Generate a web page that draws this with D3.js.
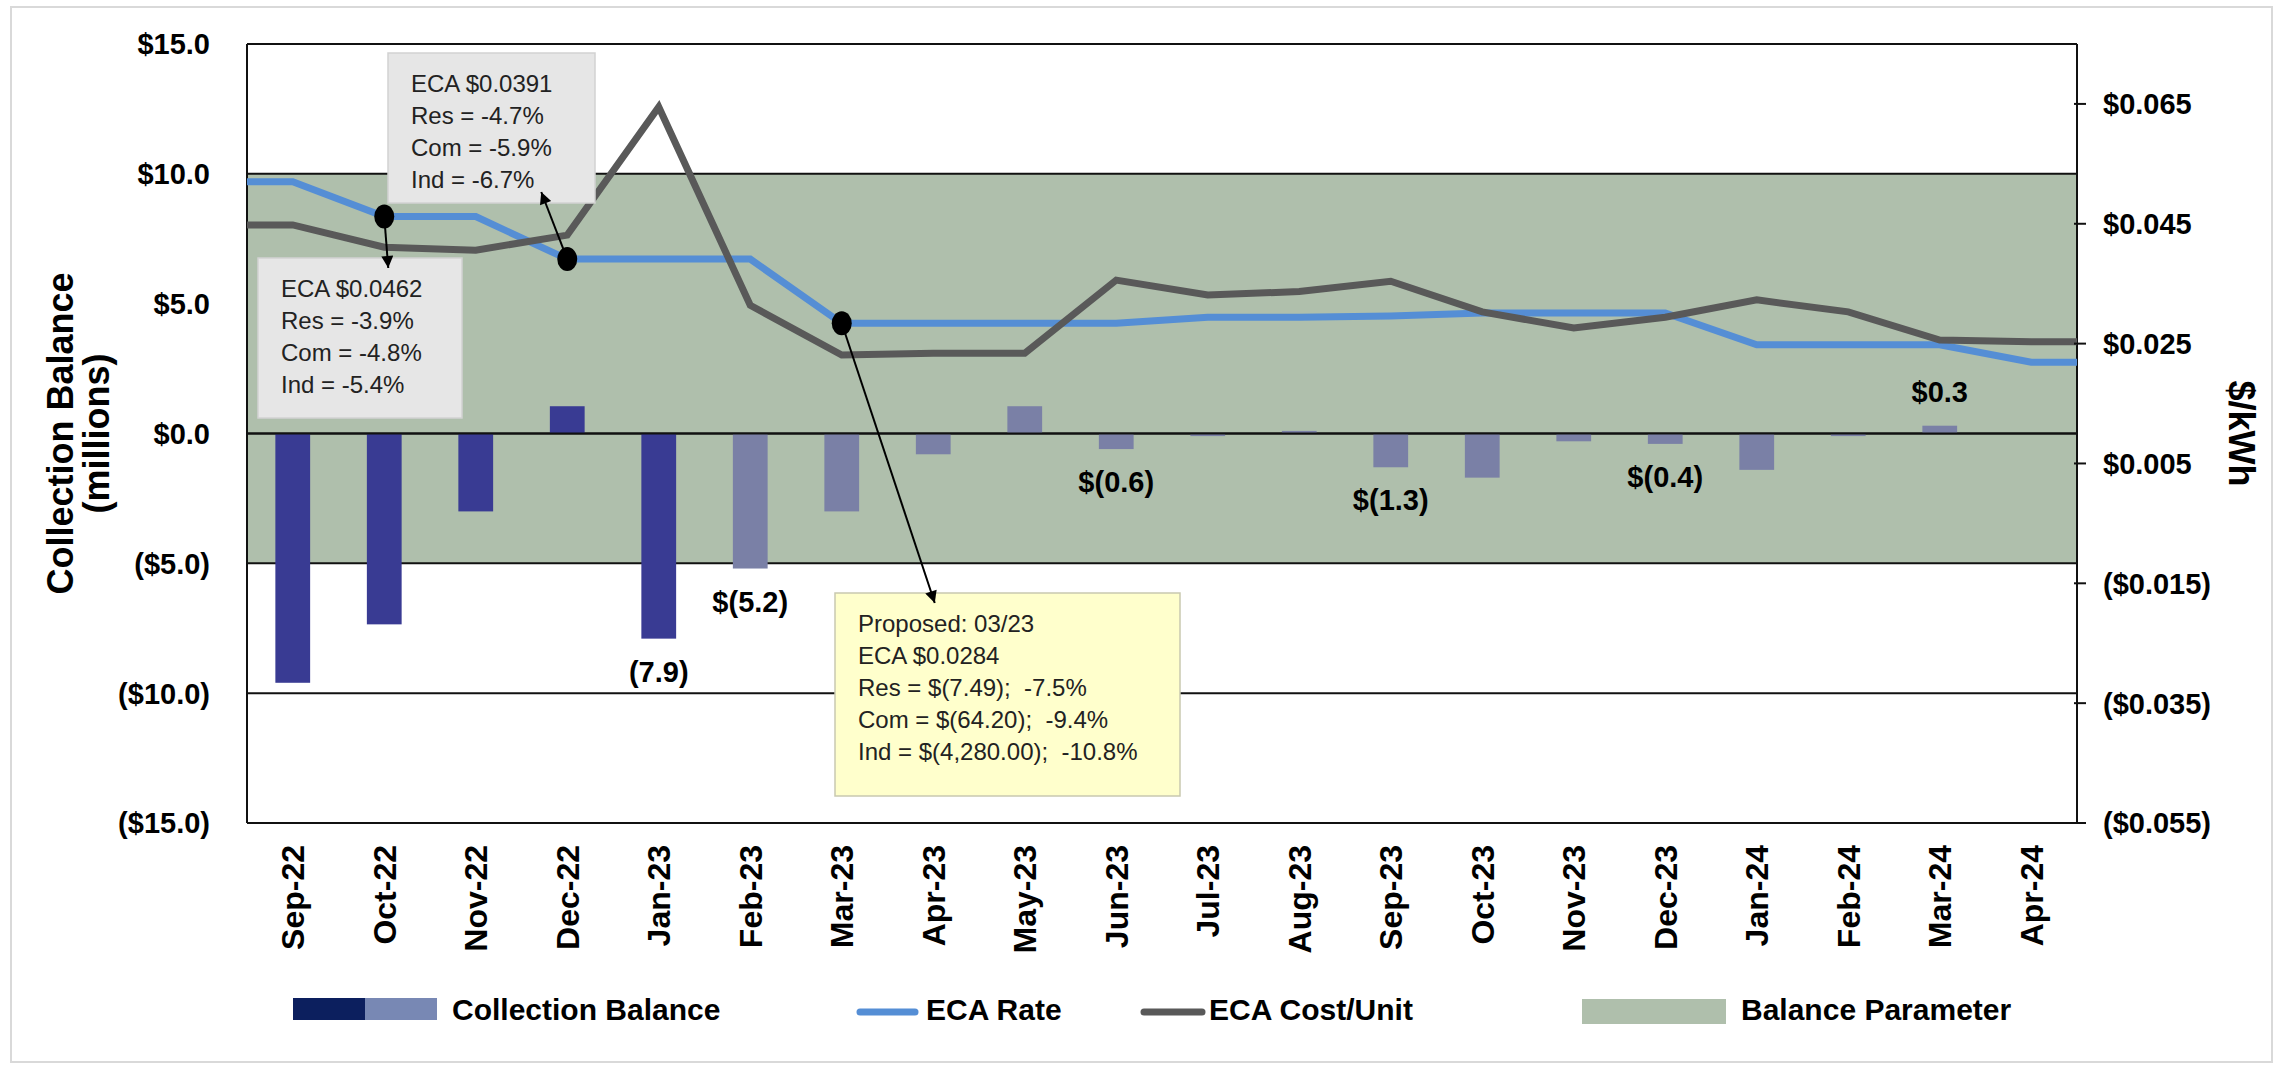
<!DOCTYPE html>
<html>
<head>
<meta charset="utf-8">
<script src="https://d3js.org/d3.v7.min.js"></script>
<style>
  body { margin: 0; background: #fff; }
  text { font-family: "Liberation Sans", Arial, sans-serif; }
</style>
</head>
<body>
<svg width="2282" height="1066"></svg>
<script>
// ---- data ----
const months = ["Sep-22", "Oct-22", "Nov-22", "Dec-22", "Jan-23", "Feb-23", "Mar-23", "Apr-23", "May-23", "Jun-23",
  "Jul-23", "Aug-23", "Sep-23", "Oct-23", "Nov-23", "Dec-23", "Jan-24", "Feb-24", "Mar-24", "Apr-24"];
const balance = [-9.6, -7.35, -3.0, 1.05, -7.9, -5.2, -3.0, -0.8, 1.05, -0.6,
  -0.1, 0.1, -1.3, -1.7, -0.3, -0.4, -1.4, -0.1, 0.3, 0];
const ecaRate = [0.0520, 0.0462, 0.0462, 0.0391, 0.0391, 0.0391, 0.0284, 0.0284, 0.0284, 0.0284,
  0.0294, 0.0294, 0.0296, 0.0301, 0.0301, 0.0301, 0.0248, 0.0248, 0.0248, 0.0219];
const ecaCost = [0.0448, 0.0411, 0.0406, 0.0431, 0.0645, 0.0314, 0.0231, 0.0234, 0.0234, 0.0356,
  0.0331, 0.0337, 0.0354, 0.0303, 0.0276, 0.0294, 0.0323, 0.0303, 0.0256, 0.0253];
const barLabels = ["", "", "", "", "(7.9)", "$(5.2)", "", "", "", "$(0.6)",
  "", "", "$(1.3)", "", "", "$(0.4)", "", "", "$0.3", ""];
const lastActual = "Jan-23";
const balanceBand = [10, -5];
const leftTicks = [15, 10, 5, 0, -5, -10, -15];
const rightTicks = [0.065, 0.045, 0.025, 0.005, -0.015, -0.035, -0.055];
const legendNames = ["Collection Balance", "ECA Rate", "ECA Cost/Unit", "Balance Parameter"];

const noteA = ["ECA $0.0391", "Res = -4.7%", "Com = -5.9%", "Ind = -6.7%"];
const noteB = ["ECA $0.0462", "Res = -3.9%", "Com = -4.8%", "Ind = -5.4%"];
const noteC = ["Proposed: 03/23", "ECA $0.0284", "Res = $(7.49);  -7.5%", "Com = $(64.20);  -9.4%", "Ind = $(4,280.00);  -10.8%"];

// ---- layout ----
const svg = d3.select("svg");
svg.append("rect").attr("x", 11).attr("y", 7).attr("width", 2261).attr("height", 1055)
  .attr("fill", "#fff").attr("stroke", "#d9d9d9").attr("stroke-width", 2);

const margin = {left: 247, top: 44, right: 205, bottom: 243};
const width = 2282 - margin.left - margin.right;
const height = 1066 - margin.top - margin.bottom;
const g = svg.append("g").attr("transform", `translate(${margin.left},${margin.top})`);

const x = d3.scaleBand().domain(months).range([0, width]).paddingInner(0.62).paddingOuter(0.31);
const yL = d3.scaleLinear().domain([-15, 15]).range([height, 0]);
const yR = d3.scaleLinear().domain([-0.055, 0.075]).range([height, 0]);
const cx = m => x(m) + x.bandwidth() / 2;

const bandGreen = "#afbfac", blue = "#558ed5", grey = "#595959";
const darkBar = "#393b93", lightBar = "#7a80a6";

// balance parameter band
g.append("rect")
  .attr("x", 0).attr("width", width)
  .attr("y", yL(balanceBand[0])).attr("height", yL(balanceBand[1]) - yL(balanceBand[0]))
  .attr("fill", bandGreen);

// grid lines (the one inside the band is hidden)
g.selectAll(".grid")
  .data(leftTicks.filter(t => t >= balanceBand[0] || t <= balanceBand[1] || t === 0))
  .enter().append("line")
  .attr("x1", 0).attr("x2", width)
  .attr("y1", d => yL(d)).attr("y2", d => yL(d))
  .attr("stroke", "#111").attr("stroke-width", 2);

// bars
const actualIdx = months.indexOf(lastActual);
g.selectAll(".bar")
  .data(balance)
  .enter().append("rect")
  .attr("x", (d, i) => x(months[i]))
  .attr("width", x.bandwidth())
  .attr("y", d => yL(Math.max(0, d)))
  .attr("height", d => Math.abs(yL(d) - yL(0)))
  .attr("fill", (d, i) => i <= actualIdx ? darkBar : lightBar);

// zero line on top of bars
g.append("line").attr("x1", 0).attr("x2", width).attr("y1", yL(0)).attr("y2", yL(0))
  .attr("stroke", "#111").attr("stroke-width", 2);

// plot side borders
g.append("line").attr("x1", 0).attr("x2", 0).attr("y1", 0).attr("y2", height).attr("stroke", "#111").attr("stroke-width", 2);
g.append("line").attr("x1", width).attr("x2", width).attr("y1", 0).attr("y2", height).attr("stroke", "#111").attr("stroke-width", 2);

// lines, carried flat to the plot edges
function linePts(vals) {
  const pts = months.map((m, i) => [cx(m), yR(vals[i])]);
  return [[0, pts[0][1]], ...pts, [width, pts[pts.length - 1][1]]];
}
const line = d3.line();
g.append("path").attr("d", line(linePts(ecaRate)))
  .attr("fill", "none").attr("stroke", blue).attr("stroke-width", 7);
g.append("path").attr("d", line(linePts(ecaCost)))
  .attr("fill", "none").attr("stroke", grey).attr("stroke-width", 7);

// left axis labels
const fmtL = d => (d < 0 ? "($" + Math.abs(d).toFixed(1) + ")" : "$" + d.toFixed(1));
g.selectAll(".ltick")
  .data(leftTicks).enter().append("text")
  .attr("x", -37).attr("y", d => yL(d)).attr("dy", "0.36em")
  .attr("text-anchor", "end")
  .style("font-size", "29px").style("font-weight", "bold")
  .text(fmtL);

// right axis ticks + labels
const fmtR = d => (d < 0 ? "($" + Math.abs(d).toFixed(3) + ")" : "$" + d.toFixed(3));
g.selectAll(".rtickmark")
  .data(rightTicks).enter().append("line")
  .attr("x1", width - 3).attr("x2", width + 9)
  .attr("y1", d => yR(d)).attr("y2", d => yR(d))
  .attr("stroke", "#111").attr("stroke-width", 2);
g.selectAll(".rtick")
  .data(rightTicks).enter().append("text")
  .attr("x", width + 26).attr("y", d => yR(d)).attr("dy", "0.36em")
  .style("font-size", "29px").style("font-weight", "bold")
  .text(fmtR);

// month labels
g.selectAll(".month")
  .data(months).enter().append("text")
  .attr("transform", d => `translate(${cx(d)},${height + 22}) rotate(-90)`)
  .attr("dy", "0.36em")
  .attr("text-anchor", "end")
  .style("font-size", "32px").style("font-weight", "bold")
  .text(d => d);

// axis titles
g.append("text")
  .attr("transform", `translate(${60 - margin.left},${height / 2}) rotate(-90)`)
  .attr("dy", "0.36em").attr("text-anchor", "middle")
  .style("font-size", "36px").style("font-weight", "bold")
  .text("Collection Balance");
g.append("text")
  .attr("transform", `translate(${96 - margin.left},${height / 2}) rotate(-90)`)
  .attr("dy", "0.36em").attr("text-anchor", "middle")
  .style("font-size", "36px").style("font-weight", "bold")
  .text("(millions)");
g.append("text")
  .attr("transform", `translate(${width + 165},${height / 2}) rotate(90)`)
  .attr("dy", "0.36em").attr("text-anchor", "middle")
  .style("font-size", "36px").style("font-weight", "bold")
  .text("$/kWh");

// arrow marker
svg.append("defs").append("marker")
  .attr("id", "arrow").attr("viewBox", "0 0 10 10")
  .attr("refX", 10).attr("refY", 5)
  .attr("markerWidth", 20).attr("markerHeight", 12)
  .attr("markerUnits", "userSpaceOnUse")
  .attr("orient", "auto")
  .append("path").attr("d", "M0,0 L10,5 L0,10 Z").attr("fill", "#000");

// callout boxes
const notes = [
  {lines: noteA, box: {x: 141, y: 9, w: 207, h: 150}, fill: "#e6e6e6", stroke: "#d2d2d2",
    month: "Dec-22", val: ecaRate[3], dx: -26, endY: 148},
  {lines: noteB, box: {x: 11, y: 214, w: 204, h: 160}, fill: "#e6e6e6", stroke: "#d2d2d2",
    month: "Oct-22", val: ecaRate[1], dx: 4, endY: 224},
  {lines: noteC, box: {x: 588, y: 549, w: 345, h: 203}, fill: "#ffffcc", stroke: "#c9c9b0",
    month: "Mar-23", val: ecaRate[6], dx: 93, endY: 559}
];

notes.forEach(n => {
  g.append("rect")
    .attr("x", n.box.x).attr("y", n.box.y).attr("width", n.box.w).attr("height", n.box.h)
    .attr("fill", n.fill).attr("stroke", n.stroke).attr("stroke-width", 1.5);
  n.lines.forEach((t, i) => {
    g.append("text")
      .attr("x", n.box.x + 23).attr("y", n.box.y + 39 + i * 32)
      .style("font-size", "24px").style("white-space", "pre").attr("fill", "#222")
      .text(t);
  });
});
notes.forEach(n => {
  const px = cx(n.month), py = yR(n.val);
  g.append("line")
    .attr("x1", px).attr("y1", py)
    .attr("x2", px + n.dx).attr("y2", n.endY)
    .attr("stroke", "#000").attr("stroke-width", 2)
    .attr("marker-end", "url(#arrow)");
  g.append("ellipse")
    .attr("cx", px).attr("cy", py).attr("rx", 10).attr("ry", 12)
    .attr("fill", "#000");
});

// bar data labels
g.selectAll(".blabel")
  .data(balance).enter().append("text")
  .attr("x", (d, i) => cx(months[i]))
  .attr("y", d => d < 0 ? yL(d) + 43 : yL(d) - 24)
  .attr("text-anchor", "middle")
  .style("font-size", "29px").style("font-weight", "bold")
  .text((d, i) => barLabels[i]);

// legend
const leg = svg.append("g");
const legY = 1009;
leg.append("rect").attr("x", 293).attr("y", legY - 11).attr("width", 72).attr("height", 22).attr("fill", "#0c1f5e");
leg.append("rect").attr("x", 365).attr("y", legY - 11).attr("width", 72).attr("height", 22).attr("fill", "#7888b4");
leg.append("line").attr("x1", 860).attr("x2", 915).attr("y1", legY + 3).attr("y2", legY + 3)
  .attr("stroke", blue).attr("stroke-width", 7).attr("stroke-linecap", "round");
leg.append("line").attr("x1", 1144).attr("x2", 1202).attr("y1", legY + 3).attr("y2", legY + 3)
  .attr("stroke", grey).attr("stroke-width", 7).attr("stroke-linecap", "round");
leg.append("rect").attr("x", 1582).attr("y", legY - 10).attr("width", 144).attr("height", 25).attr("fill", bandGreen);

const legX = [452, 926, 1209, 1741];
legendNames.forEach((name, i) => {
  leg.append("text")
    .attr("x", legX[i]).attr("y", legY + 11)
    .style("font-size", "30px").style("font-weight", "bold")
    .text(name);
});
</script>
</body>
</html>
